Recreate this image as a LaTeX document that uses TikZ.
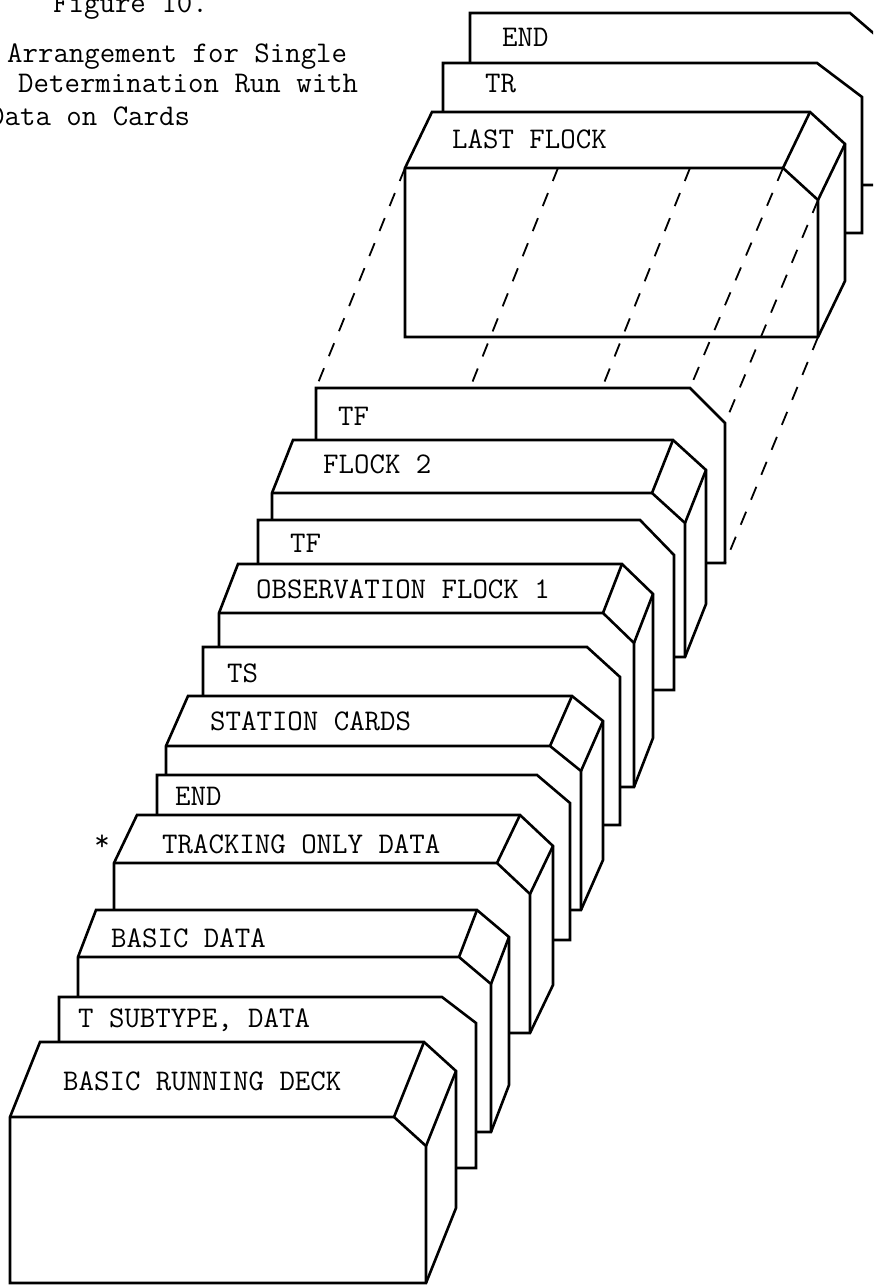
\documentclass[tikz,border=0pt]{standalone}
\usepackage{fontspec}
\usepackage{tikz}
\tikzstyle{deck}=[draw=black,fill=white,line width=2.6pt]
\tikzstyle{edge}=[draw=black,line width=2.6pt]
\tikzstyle{hidden}=[draw=black,line width=1.8pt,dash pattern=on 14pt off 13pt]
\tikzstyle{cardtext}=[font=\ttfamily\fontsize{30}{36}\selectfont,inner sep=0pt,anchor=base west]
\newcommand{\drawcard}[6]{%
  \filldraw[deck] (#1,#6) -- (#1,#2) -- (#3,#2) -- (#4,#5) -- (#4,#6) -- cycle;}
\newcommand{\drawdeck}[8]{%
  \filldraw[deck] (#1,#2) -- ({#1+#7},{#2-#8}) -- ({#3+#7},{#2-#8}) -- ({#4+#7},{#5-#8})
    -- ({#4+#7},{#6-#8}) -- (#4,#6) -- (#1,#6) -- cycle;
  \draw[edge] (#1,#2) -- (#3,#2) -- (#4,#5) -- (#4,#6);
  \draw[edge] (#3,#2) -- ({#3+#7},{#2-#8});
  \draw[edge] (#4,#5) -- ({#4+#7},{#5-#8});}

\begin{document}
\begin{tikzpicture}[x={(1pt,0pt)},y={(0pt,-1pt)}]
    \useasboundingbox (0,0) rectangle (873,1287);
    \clip (0,0) rectangle (873,1287);

    \node [style = cardtext] (fig) at (53,13) {Figure 10.};
    \node [style = cardtext] (title1) at (7,63) {Arrangement for Single};
    \node [style = cardtext] (title2) at (18,93) {Determination Run with};
    \node [style = cardtext] (title3) at (-11,125) {Data on Cards};

    \drawcard{470}{13}{850}{893}{50}{185}
    \node [style = cardtext] (endlast) at (502,47) {END};
    \drawcard{443}{63}{817}{862}{97}{233}
    \node [style = cardtext] (tr) at (485,93) {TR};
    \drawdeck{405}{168}{783}{818}{200}{337}{27}{56}
    \node [style = cardtext] (lastflock) at (452,148) {LAST FLOCK};

    \draw [style = hidden] (405,168) -- (316,388);
    \draw [style = hidden] (558,168) -- (470,388);
    \draw [style = hidden] (690,168) -- (602,388);
    \draw [style = hidden] (783,168) -- (690,388);
    \draw [style = hidden] (818,200) -- (725,423);
    \draw [style = hidden] (818,337) -- (725,563);

    \drawcard{316}{388}{690}{725}{423}{563}
    \node [style = cardtext] (tf2) at (338,425) {TF};
    \drawdeck{272}{493}{652}{685}{523}{657}{21}{53}
    \node [style = cardtext] (flock2) at (323,473) {FLOCK 2};
    \drawcard{258}{520}{640}{674}{555}{690}
    \node [style = cardtext] (tf1) at (290,552) {TF};
    \drawdeck{219}{613}{603}{634}{643}{787}{19}{49}
    \node [style = cardtext] (flock1) at (256,598) {OBSERVATION FLOCK 1};
    \drawcard{203}{647}{587}{620}{677}{825}
    \node [style = cardtext] (ts) at (227,682) {TS};
    \drawdeck{166}{746}{550}{581}{771}{910}{22}{50}
    \node [style = cardtext] (station) at (210,730) {STATION CARDS};
    \drawcard{157}{775}{537}{570}{803}{940}
    \node [style = cardtext] (endtrack) at (175,805) {END};
    \drawdeck{114}{863}{497}{530}{894}{1033}{23}{48}
    \node [style = cardtext] (tracking) at (162,853) {TRACKING ONLY DATA};
    \node [style = cardtext, anchor = base] (star) at (102,850) {*};
    \drawdeck{78}{957}{459}{491}{984}{1132}{18}{47}
    \node [style = cardtext] (basic) at (111,947) {BASIC DATA};
    \drawcard{59}{997}{442}{476}{1023}{1168}
    \node [style = cardtext] (subtype) at (78,1027) {T SUBTYPE, DATA};
    \drawdeck{10}{1117}{394}{426}{1146}{1283}{30}{75}
    \node [style = cardtext] (running) at (63,1090) {BASIC RUNNING DECK};
\end{tikzpicture}
\end{document}
